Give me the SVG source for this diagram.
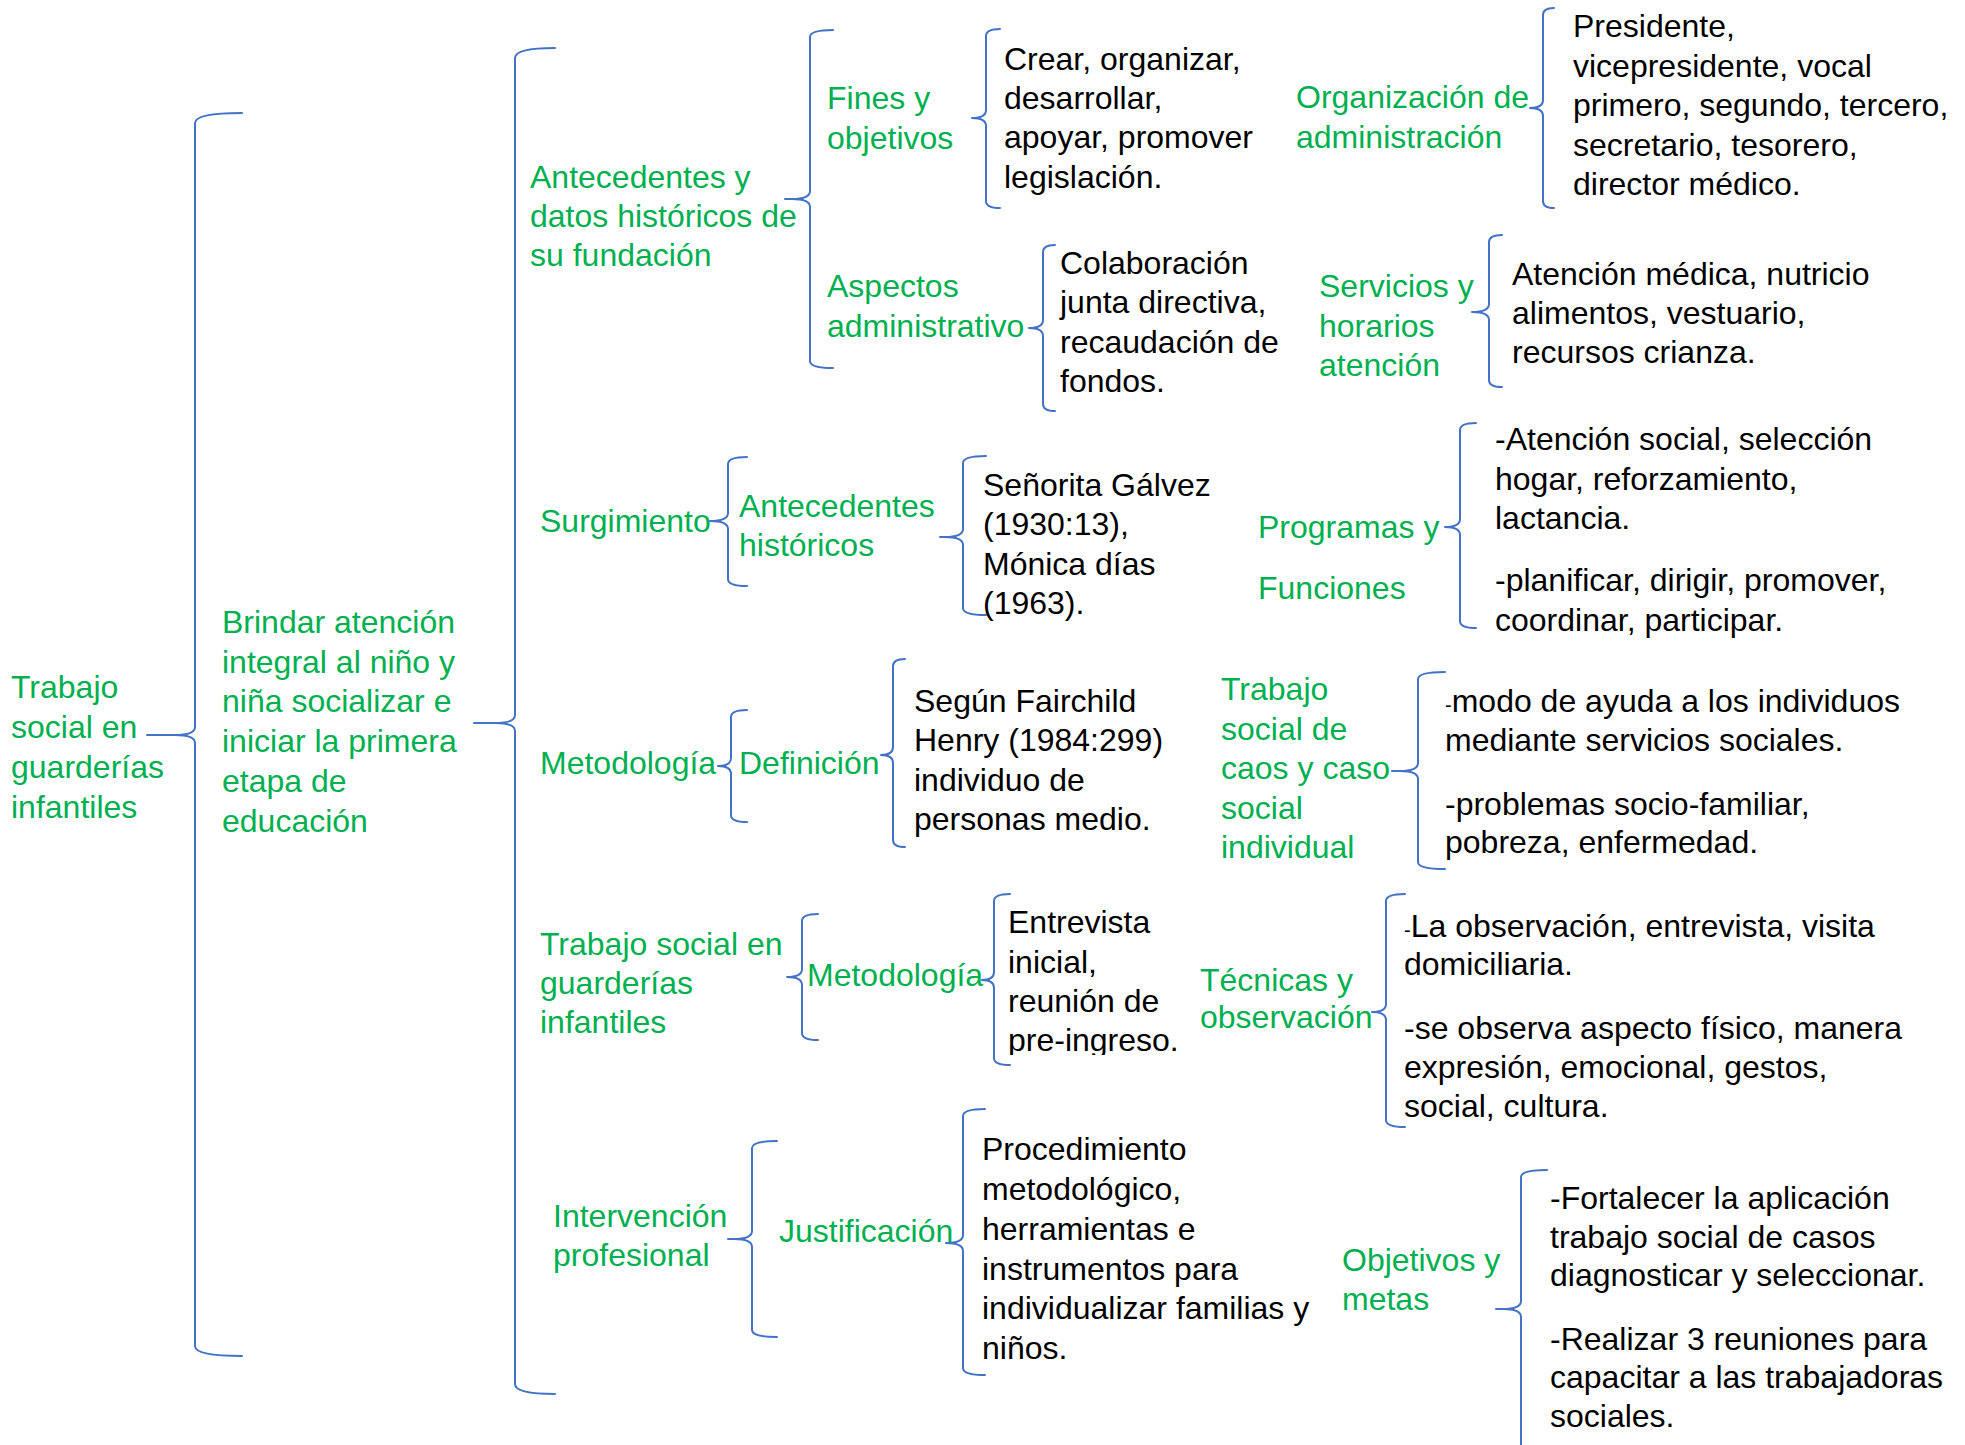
<svg xmlns="http://www.w3.org/2000/svg" width="1965" height="1445" viewBox="0 0 1965 1445">
<style>
text{font-family:"Liberation Sans",Arial,sans-serif;font-size:32px}
.g{fill:#00B050}
.k{fill:#000000}
.sd{font-size:20px}
#connectors path{fill:none;stroke:#4472C4;stroke-width:2;stroke-linejoin:round;stroke-linecap:round}
</style>
<defs>
<clipPath id="clipPre"><rect x="990" y="890" width="220" height="165"/></clipPath>
</defs>
<rect width="1965" height="1445" fill="#ffffff"/>
<g id="connectors">
<path d="M242,113 Q195,113 195,123 L195,727 Q195,735 175,735 L147,735 L175,735 Q195,735 195,743 L195,1346 Q195,1356 242,1356"/>
<path d="M555,48 Q515,48 515,58 L515,715 Q515,723 495,723 L474,723 L495,723 Q515,723 515,731 L515,1384 Q515,1394 555,1394"/>
<path d="M833,30 Q810,30 810,37 L810,191 Q810,199 792,199 L785,199 L792,199 Q810,199 810,207 L810,361 Q810,368 833,368"/>
<path d="M1000,29 Q986,29 986,36 L986,110 Q986,118 972,118 Q986,118 986,126 L986,201 Q986,208 1000,208"/>
<path d="M1554,8 Q1543,8 1543,15 L1543,100 Q1543,108 1530,108 Q1543,108 1543,116 L1543,201 Q1543,208 1554,208"/>
<path d="M1055,245 Q1043,245 1043,252 L1043,320 Q1043,328 1029,328 Q1043,328 1043,336 L1043,404 Q1043,411 1055,411"/>
<path d="M1502,235 Q1489,235 1489,242 L1489,304 Q1489,312 1472,312 Q1489,312 1489,320 L1489,380 Q1489,387 1502,387"/>
<path d="M747,457 Q728,457 728,464 L728,513 Q728,521 710,521 Q728,521 728,529 L728,579 Q728,586 747,586"/>
<path d="M986,456 Q963,456 963,463 L963,529 Q963,537 945,537 L940,537 L945,537 Q963,537 963,545 L963,608 Q963,615 986,615"/>
<path d="M1476,423 Q1460,423 1460,430 L1460,519 Q1460,527 1445,527 Q1460,527 1460,535 L1460,621 Q1460,628 1476,628"/>
<path d="M747,710 Q731,710 731,717 L731,758 Q731,766 718,766 Q731,766 731,774 L731,815 Q731,822 747,822"/>
<path d="M905,659 Q893,659 893,666 L893,747 Q893,755 881,755 Q893,755 893,763 L893,840 Q893,847 905,847"/>
<path d="M1445,672 Q1418,672 1418,679 L1418,763 Q1418,771 1400,771 L1392,771 L1400,771 Q1418,771 1418,779 L1418,862 Q1418,869 1445,869"/>
<path d="M818,914 Q802,914 802,921 L802,969 Q802,977 787,977 Q802,977 802,985 L802,1033 Q802,1040 818,1040"/>
<path d="M1010,894 Q994,894 994,901 L994,972 Q994,980 982,980 Q994,980 994,988 L994,1058 Q994,1065 1010,1065"/>
<path d="M1405,894 Q1386,894 1386,901 L1386,1004 Q1386,1012 1372,1012 Q1386,1012 1386,1020 L1386,1120 Q1386,1127 1405,1127"/>
<path d="M777,1141 Q752,1141 752,1148 L752,1231 Q752,1239 734,1239 L728,1239 L734,1239 Q752,1239 752,1247 L752,1330 Q752,1337 777,1337"/>
<path d="M985,1109 Q963,1109 963,1116 L963,1235 Q963,1243 946,1243 Q963,1243 963,1251 L963,1368 Q963,1375 985,1375"/>
<path d="M1547,1170 Q1521,1170 1521,1177 L1521,1301 Q1521,1309 1503,1309 L1496,1309 L1503,1309 Q1521,1309 1521,1317 L1521,1450"/>
</g>
<g id="n1"><text class="g"><tspan x="11" y="698">Trabajo</tspan><tspan x="11" y="738">social en</tspan><tspan x="11" y="778">guarderías</tspan><tspan x="11" y="818">infantiles</tspan></text></g>
<g id="n2"><text class="g"><tspan x="222" y="633">Brindar atención</tspan><tspan x="222" y="673">integral al niño y</tspan><tspan x="222" y="712">niña socializar e</tspan><tspan x="222" y="752">iniciar la primera</tspan><tspan x="222" y="792">etapa de</tspan><tspan x="222" y="832">educación</tspan></text></g>
<g id="n3"><text class="g"><tspan x="530" y="188">Antecedentes y</tspan><tspan x="530" y="227">datos históricos de</tspan><tspan x="530" y="266">su fundación</tspan></text></g>
<g id="n4"><text class="g"><tspan x="827" y="109">Fines y</tspan><tspan x="827" y="149">objetivos</tspan></text></g>
<g id="n5"><text class="k"><tspan x="1004" y="70">Crear, organizar,</tspan><tspan x="1004" y="109">desarrollar,</tspan><tspan x="1004" y="148">apoyar, promover</tspan><tspan x="1004" y="188">legislación.</tspan></text></g>
<g id="n6"><text class="g"><tspan x="1296" y="108">Organización de</tspan><tspan x="1296" y="148">administración</tspan></text></g>
<g id="n7"><text class="k"><tspan x="1573" y="37">Presidente,</tspan><tspan x="1573" y="77">vicepresidente, vocal</tspan><tspan x="1573" y="116">primero, segundo, tercero,</tspan><tspan x="1573" y="156">secretario, tesorero,</tspan><tspan x="1573" y="195">director médico.</tspan></text></g>
<g id="n8"><text class="g"><tspan x="827" y="297">Aspectos</tspan><tspan x="827" y="337">administrativo</tspan></text></g>
<g id="n9"><text class="k"><tspan x="1060" y="274">Colaboración</tspan><tspan x="1060" y="313">junta directiva,</tspan><tspan x="1060" y="353">recaudación de</tspan><tspan x="1060" y="392">fondos.</tspan></text></g>
<g id="n10"><text class="g"><tspan x="1319" y="297">Servicios y</tspan><tspan x="1319" y="337">horarios</tspan><tspan x="1319" y="376">atención</tspan></text></g>
<g id="n11"><text class="k"><tspan x="1512" y="285">Atención médica, nutricio</tspan><tspan x="1512" y="324">alimentos, vestuario,</tspan><tspan x="1512" y="363">recursos crianza.</tspan></text></g>
<g id="n12"><text class="g" x="540" y="532">Surgimiento</text></g>
<g id="n13"><text class="g"><tspan x="739" y="517">Antecedentes</tspan><tspan x="739" y="556">históricos</tspan></text></g>
<g id="n14"><text class="k"><tspan x="983" y="496">Señorita Gálvez</tspan><tspan x="983" y="535">(1930:13),</tspan><tspan x="983" y="575">Mónica días</tspan><tspan x="983" y="614">(1963).</tspan></text></g>
<g id="n15"><text class="g"><tspan x="1258" y="538">Programas y</tspan><tspan x="1258" y="599">Funciones</tspan></text></g>
<g id="n16"><text class="k"><tspan x="1495" y="450">-Atención social, selección</tspan><tspan x="1495" y="490">hogar, reforzamiento,</tspan><tspan x="1495" y="529">lactancia.</tspan><tspan x="1495" y="591">-planificar, dirigir, promover,</tspan><tspan x="1495" y="631">coordinar, participar.</tspan></text></g>
<g id="n17"><text class="g" x="540" y="774">Metodología</text></g>
<g id="n18"><text class="g" x="739" y="774">Definición</text></g>
<g id="n19"><text class="k"><tspan x="914" y="712">Según Fairchild</tspan><tspan x="914" y="751">Henry (1984:299)</tspan><tspan x="914" y="791">individuo de</tspan><tspan x="914" y="830">personas medio.</tspan></text></g>
<g id="n20"><text class="g"><tspan x="1221" y="700">Trabajo</tspan><tspan x="1221" y="740">social de</tspan><tspan x="1221" y="779">caos y caso</tspan><tspan x="1221" y="819">social</tspan><tspan x="1221" y="858">individual</tspan></text></g>
<g id="n21"><text class="k"><tspan x="1445" y="712"><tspan class="sd">-</tspan>modo de ayuda a los individuos</tspan><tspan x="1445" y="751">mediante servicios sociales.</tspan><tspan x="1445" y="815">-problemas socio-familiar,</tspan><tspan x="1445" y="853">pobreza, enfermedad.</tspan></text></g>
<g id="n22"><text class="g"><tspan x="540" y="955">Trabajo social en</tspan><tspan x="540" y="994">guarderías</tspan><tspan x="540" y="1033">infantiles</tspan></text></g>
<g id="n23"><text class="g" x="807" y="986">Metodología</text></g>
<g id="n24"><text class="k" clip-path="url(#clipPre)"><tspan x="1008" y="933">Entrevista</tspan><tspan x="1008" y="973">inicial,</tspan><tspan x="1008" y="1012">reunión de</tspan><tspan x="1008" y="1051">pre-ingreso.</tspan></text></g>
<g id="n25"><text class="g"><tspan x="1200" y="991">Técnicas y</tspan><tspan x="1200" y="1028">observación</tspan></text></g>
<g id="n26"><text class="k"><tspan x="1404" y="937"><tspan class="sd">-</tspan>La observación, entrevista, visita</tspan><tspan x="1404" y="975">domiciliaria.</tspan><tspan x="1404" y="1039">-se observa aspecto físico, manera</tspan><tspan x="1404" y="1078">expresión, emocional, gestos,</tspan><tspan x="1404" y="1117">social, cultura.</tspan></text></g>
<g id="n27"><text class="g"><tspan x="553" y="1227">Intervención</tspan><tspan x="553" y="1266">profesional</tspan></text></g>
<g id="n28"><text class="g" x="779" y="1242">Justificación</text></g>
<g id="n29"><text class="k"><tspan x="982" y="1160">Procedimiento</tspan><tspan x="982" y="1200">metodológico,</tspan><tspan x="982" y="1240">herramientas e</tspan><tspan x="982" y="1280">instrumentos para</tspan><tspan x="982" y="1319">individualizar familias y</tspan><tspan x="982" y="1359">niños.</tspan></text></g>
<g id="n30"><text class="g"><tspan x="1342" y="1271">Objetivos y</tspan><tspan x="1342" y="1310">metas</tspan></text></g>
<g id="n31"><text class="k"><tspan x="1550" y="1209">-Fortalecer la aplicación</tspan><tspan x="1550" y="1248">trabajo social de casos</tspan><tspan x="1550" y="1286">diagnosticar y seleccionar.</tspan><tspan x="1550" y="1350">-Realizar 3 reuniones para</tspan><tspan x="1550" y="1388">capacitar a las trabajadoras</tspan><tspan x="1550" y="1427">sociales.</tspan></text></g>
</svg>
